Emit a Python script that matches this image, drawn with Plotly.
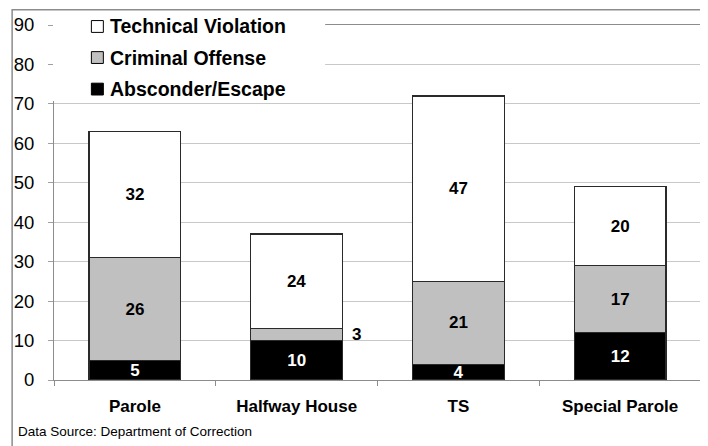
import plotly.graph_objects as go

categories = ["Parole", "Halfway House", "TS", "Special Parole"]
series_names = ["Absconder/Escape", "Criminal Offense", "Technical Violation"]
absconder = [5, 10, 4, 12]
criminal = [26, 3, 21, 17]
technical = [32, 24, 47, 20]
y_ticks = [0, 10, 20, 30, 40, 50, 60, 70, 80, 90]
source_note = "Data Source: Department of Correction"

series_values = [absconder, criminal, technical]
fills = ["#000000", "#C0C0C0", "#FFFFFF"]
text_colors = ["#FFFFFF", "#000000", "#000000"]

FONT = "Liberation Sans, Arial, sans-serif"
OFF = 8  # page body margin
W, H = 708 - OFF, 446 - OFF
# plot area in window pixels: x 53..702, y 20..380
L, R, T, B = 53 - OFF, 708 - 702, 20 - OFF, 446 - 380
PW, PH = W - L - R, H - T - B


def px_x(px):
    return (px - OFF - L) / PW


def px_y(py):
    return (H - B - (py - OFF)) / PH


fig = go.Figure()
annotations = []
for name, vals, fc, tc in zip(series_names, series_values, fills, text_colors):
    texts = [str(v) if v > 3 else "" for v in vals]
    fig.add_trace(go.Bar(
        name=name, x=categories, y=vals,
        marker=dict(color=fc, line=dict(color="#2A2A2A", width=1.3)),
        text=texts, textposition="inside", insidetextanchor="middle",
        textangle=0,
        textfont=dict(family=FONT, size=17, color=tc, weight="bold"),
        width=0.567, showlegend=False, hoverinfo="skip",
    ))

# outside labels for small segments
base = [0] * len(categories)
for vals in series_values:
    for i, v in enumerate(vals):
        if v <= 3:
            annotations.append(dict(
                x=categories[i], y=base[i] + v / 2, xref="x", yref="y",
                text="<b>%d</b>" % v, showarrow=False, xanchor="left",
                xshift=53, font=dict(family=FONT, size=17, color="#000000")))
    base = [b + v for b, v in zip(base, vals)]

shapes = []
# legend background box
shapes.append(dict(type="rect", xref="paper", yref="paper",
                   x0=px_x(52), x1=px_x(325), y0=px_y(97), y1=px_y(5),
                   fillcolor="#FFFFFF", line=dict(width=0), layer="above"))
# outer frame
shapes.append(dict(type="rect", xref="paper", yref="paper",
                   x0=px_x(11), x1=px_x(702), y0=px_y(470), y1=px_y(4.5),
                   fillcolor="rgba(0,0,0,0)", line=dict(color="#8C8C8C", width=1.5),
                   layer="above"))

# custom legend
leg_y = [21.5, 53, 85]
for (name, fc), py in zip(list(zip(series_names, fills))[::-1], leg_y):
    shapes.append(dict(type="rect", xref="paper", yref="paper",
                       x0=px_x(90.5), x1=px_x(102.5), y0=px_y(py + 6), y1=px_y(py - 6),
                       fillcolor=fc, line=dict(color="#000000", width=1), layer="above"))
    annotations.append(dict(x=px_x(107.5), y=px_y(py), xref="paper", yref="paper",
                            text="<b>%s</b>" % name, showarrow=False, xanchor="left",
                            yanchor="middle",
                            font=dict(family=FONT, size=19.5, color="#000000")))

annotations.append(dict(x=px_x(15), y=px_y(432), xref="paper", yref="paper",
                        text=source_note, showarrow=False, xanchor="left",
                        yanchor="middle",
                        font=dict(family=FONT, size=13.5, color="#000000")))

fig.update_layout(
    width=W, height=H,
    margin=dict(l=L, r=R, t=T, b=B, pad=0),
    paper_bgcolor="#FFFFFF", plot_bgcolor="#FFFFFF",
    barmode="stack", bargap=0.433,
    uniformtext=dict(minsize=17, mode="show"),
    showlegend=False,
    shapes=shapes, annotations=annotations,
    xaxis=dict(
        type="category", range=[-0.5, 3.5], tickson="boundaries",
        ticks="outside", ticklen=5, tickcolor="#8C8C8C", tickwidth=1,
        showline=True, linecolor="#8C8C8C", linewidth=1, mirror=True,
        showgrid=False, ticklabelstandoff=11,
        tickfont=dict(family=FONT, size=17, color="#000000", weight="bold"),
    ),
    yaxis=dict(
        range=[0, 90], tickvals=y_ticks, ticks="outside", ticklen=5,
        tickcolor="#A0A0A0", tickwidth=1,
        showline=True, linecolor="#8C8C8C", linewidth=1, mirror=True,
        showgrid=True, gridcolor="#C8C8C8", gridwidth=1, zeroline=False,
        ticklabelstandoff=10,
        tickfont=dict(family=FONT, size=18.5, color="#000000"),
    ),
    font=dict(family=FONT),
)

fig.write_html("out.html")
